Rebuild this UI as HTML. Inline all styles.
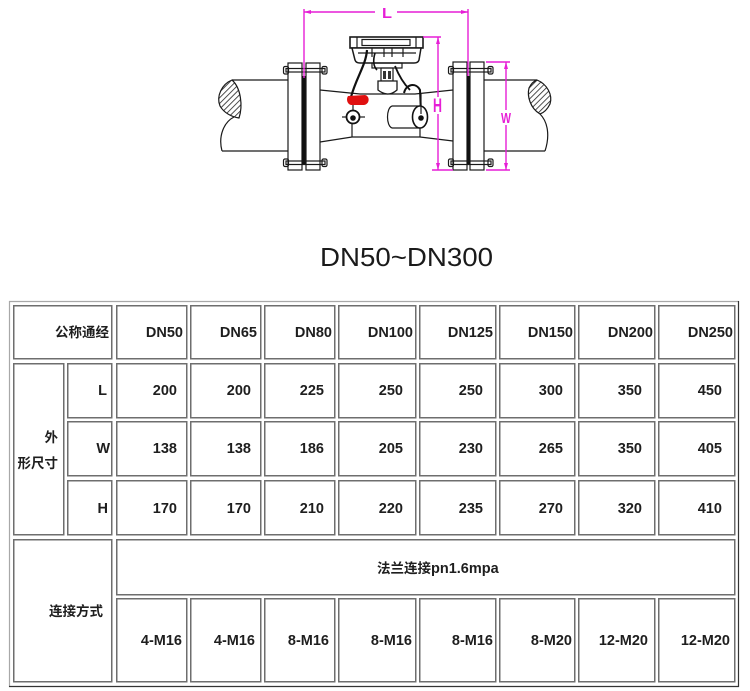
<!DOCTYPE html>
<html><head><meta charset="utf-8"><style>
html,body{margin:0;padding:0;background:#fff;}
svg{display:block;}
.t{font-family:"Liberation Sans","Noto Sans CJK SC",sans-serif;font-weight:bold;font-size:14.5px;fill:#1e1e1e;}
.c{font-family:"Liberation Sans","Noto Sans CJK SC",sans-serif;font-weight:bold;font-size:13.5px;fill:#1e1e1e;}
.cell{fill:none;stroke:#6e6e6e;stroke-width:1.5;}
.k{fill:none;stroke:#1a1a1a;stroke-width:1.2;}
.m{stroke:#e61ed6;stroke-width:1.4;fill:none;}
.mf{fill:#e61ed6;}
</style></head><body>
<svg width="750" height="691" viewBox="0 0 750 691" xmlns="http://www.w3.org/2000/svg">
<defs>
<pattern id="h" patternUnits="userSpaceOnUse" width="4" height="4" patternTransform="rotate(45)">
<rect width="4" height="4" fill="#fff"/><line x1="0" y1="0" x2="0" y2="4" stroke="#222" stroke-width="1.6"/>
</pattern>
</defs>

<!-- ===== DRAWING ===== -->
<!-- left pipe -->
<line class="k" x1="232" y1="80" x2="288" y2="80"/>
<line class="k" x1="222" y1="151" x2="288" y2="151"/>
<path d="M232,80 C222,84 216,96 220,106 C224,113 232,117 239,118 C243,106 241,88 232,80 Z" fill="url(#h)" stroke="#1a1a1a" stroke-width="1.2"/>
<path class="k" d="M234,117 C224,122 218,136 222,151"/>
<!-- right pipe -->
<line class="k" x1="484" y1="80" x2="537" y2="80"/>
<line class="k" x1="484" y1="151" x2="545" y2="151"/>
<path d="M537,80 C547,84 553,95 550,104 C547,110 543,113 540,114 C530,108 527,96 529,88 C531,84 534,81 537,80 Z" fill="url(#h)" stroke="#1a1a1a" stroke-width="1.2"/>
<path class="k" d="M540,114 C548,122 550,136 545,151"/>

<!-- body -->
<polyline class="k" points="320,90 360,94 415,94 453,90"/>
<polyline class="k" points="320,142 352,137 420,137 453,141"/>
<line class="k" x1="352" y1="123" x2="352" y2="137"/>
<line class="k" x1="420" y1="128" x2="420" y2="137"/>

<!-- left flange -->
<rect class="k" x="288" y="63" width="14" height="107" fill="#fff"/>
<rect class="k" x="306" y="63" width="14" height="107" fill="#fff"/>
<rect x="302" y="76" width="3.5" height="88" fill="#111"/>
<rect class="k" x="286" y="68.5" width="39" height="3.5" fill="#fff"/>
<rect class="k" x="283.5" y="66.5" width="5" height="7.5" rx="1.5" fill="#fff"/>
<rect class="k" x="322" y="66.5" width="5" height="7.5" rx="1.5" fill="#fff"/>
<rect class="k" x="286" y="161" width="39" height="3.5" fill="#fff"/>
<rect class="k" x="283.5" y="159" width="5" height="7.5" rx="1.5" fill="#fff"/>
<rect class="k" x="322" y="159" width="5" height="7.5" rx="1.5" fill="#fff"/>

<!-- right flange -->
<rect class="k" x="453" y="62" width="14" height="108" fill="#fff"/>
<rect class="k" x="470" y="62" width="14" height="108" fill="#fff"/>
<rect x="467" y="76" width="3" height="88" fill="#111"/>
<rect class="k" x="451" y="68.5" width="40" height="3.5" fill="#fff"/>
<rect class="k" x="448.5" y="66.5" width="5" height="7.5" rx="1.5" fill="#fff"/>
<rect class="k" x="488" y="66.5" width="5" height="7.5" rx="1.5" fill="#fff"/>
<rect class="k" x="451" y="161" width="40" height="3.5" fill="#fff"/>
<rect class="k" x="448.5" y="159" width="5" height="7.5" rx="1.5" fill="#fff"/>
<rect class="k" x="488" y="159" width="5" height="7.5" rx="1.5" fill="#fff"/>

<!-- meter head -->
<rect x="350" y="37" width="73" height="11" fill="#fff" stroke="#1a1a1a" stroke-width="1.6"/>
<rect class="k" x="362" y="39.5" width="48" height="6"/>
<line class="k" x1="357" y1="37" x2="357" y2="48"/>
<line class="k" x1="416" y1="37" x2="416" y2="48"/>
<path d="M352,48 L421,48 L419,60 Q418,63 414,63 L360,63 Q356,63 355,60 Z" fill="#fff" stroke="#1a1a1a" stroke-width="1.5"/>
<line class="k" x1="358" y1="53" x2="416" y2="53"/>
<line class="k" x1="372" y1="48" x2="372" y2="57"/>
<line class="k" x1="384" y1="48" x2="384" y2="57"/>
<line class="k" x1="392" y1="48" x2="392" y2="57"/>
<line class="k" x1="403" y1="48" x2="403" y2="57"/>
<!-- stem -->
<rect class="k" x="372" y="63" width="30" height="5" fill="#fff"/>
<rect class="k" x="381" y="68" width="12" height="13" fill="#fff"/>
<rect x="383" y="71" width="3" height="8" fill="#333"/>
<rect x="388" y="71" width="3" height="8" fill="#333"/>
<path d="M378,81 L397,81 L397,90 Q388,98 378,90 Z" fill="#fff" stroke="#1a1a1a" stroke-width="1.3"/>
<!-- cables -->
<path d="M367,50 C366,65 356,78 351,97" fill="none" stroke="#111" stroke-width="2.2"/>
<path d="M375,53 C373,60 373,66 377,70" fill="none" stroke="#111" stroke-width="1.6"/>
<path d="M395,66 C399,76 404,84 410,90" fill="none" stroke="#111" stroke-width="1.8"/>
<path d="M404,93 C406,84 416,82 420,90 L421,114" fill="none" stroke="#111" stroke-width="2"/>
<!-- red -->
<path d="M348,96 L365,95 C370,96 370,104 364,105 L351,105 C347,104 346,99 348,96 Z" fill="#e01010"/>
<!-- left sensor -->
<line class="k" x1="353" y1="105" x2="353" y2="110"/>
<circle cx="353" cy="117" r="6.5" fill="#fff" stroke="#111" stroke-width="1.8"/>
<circle cx="353" cy="118" r="2.8" fill="#111"/>
<line class="k" x1="342" y1="117" x2="346" y2="117"/>
<line class="k" x1="360" y1="117" x2="365" y2="117"/>
<!-- right cylinder -->
<path d="M392,106 L420,106 M392,128 L420,128" class="k"/>
<path d="M392,106 C386,108 386,126 392,128" class="k"/>
<ellipse cx="420" cy="117" rx="7.5" ry="11" fill="#fff" stroke="#111" stroke-width="1.6"/>
<circle cx="421" cy="118" r="2.8" fill="#111"/>
<line class="k" x1="421" y1="94" x2="421" y2="114"/>

<!-- dimensions -->
<line class="m" x1="304" y1="9" x2="304" y2="78"/>
<line class="m" x1="468" y1="9" x2="468" y2="76"/>
<line class="m" x1="304" y1="12" x2="375" y2="12"/>
<line class="m" x1="397" y1="12" x2="468" y2="12"/>
<polygon class="mf" points="304,12 311,10 311,14"/>
<polygon class="mf" points="468,12 461,10 461,14"/>
<text x="382" y="18" font-family="Liberation Sans" font-weight="bold" font-size="15" fill="#e61ed6" textLength="10" lengthAdjust="spacingAndGlyphs">L</text>

<line class="m" x1="423" y1="37" x2="441" y2="37"/>
<line class="m" x1="432" y1="170" x2="453" y2="170"/>
<line class="m" x1="438" y1="37" x2="438" y2="97"/>
<line class="m" x1="438" y1="114" x2="438" y2="170"/>
<polygon class="mf" points="438,37 436,44 440,44"/>
<polygon class="mf" points="438,170 436,163 440,163"/>
<text x="433" y="112" font-family="Liberation Sans" font-weight="bold" font-size="19" fill="#e61ed6" textLength="9" lengthAdjust="spacingAndGlyphs">H</text>

<line class="m" x1="486" y1="62" x2="510" y2="62"/>
<line class="m" x1="486" y1="170" x2="510" y2="170"/>
<line class="m" x1="506" y1="62" x2="506" y2="110"/>
<line class="m" x1="506" y1="125" x2="506" y2="170"/>
<polygon class="mf" points="506,62 504,69 508,69"/>
<polygon class="mf" points="506,170 504,163 508,163"/>
<text x="501" y="123" font-family="Liberation Sans" font-weight="bold" font-size="15" fill="#e61ed6" textLength="10" lengthAdjust="spacingAndGlyphs">W</text>

<!-- ===== TITLE ===== -->
<text x="320" y="266" font-family="Liberation Sans" font-size="25.5" fill="#1a1a1a" textLength="173" lengthAdjust="spacingAndGlyphs">DN50~DN300</text>

<!-- ===== TABLE ===== -->
<line x1="9" y1="301.5" x2="739" y2="301.5" stroke="#a8a8a8" stroke-width="1.2"/>
<line x1="9.5" y1="301" x2="9.5" y2="687" stroke="#a8a8a8" stroke-width="1.2"/>
<line x1="738.5" y1="301" x2="738.5" y2="687" stroke="#333" stroke-width="1.2"/>
<line x1="9" y1="686.5" x2="739" y2="686.5" stroke="#333" stroke-width="1.2"/>

<!-- header & left cells -->
<rect class="cell" x="13.75" y="305.75" width="98" height="53"/>
<rect class="cell" x="13.75" y="363.75" width="50" height="171"/>
<rect class="cell" x="67.75" y="363.75" width="44" height="54"/>
<rect class="cell" x="67.75" y="421.75" width="44" height="54"/>
<rect class="cell" x="67.75" y="480.75" width="44" height="54"/>
<rect class="cell" x="13.75" y="539.75" width="98" height="142"/>
<rect class="cell" x="116.75" y="539.75" width="618" height="55"/>

<!-- data grid cells -->
<g>
<rect class="cell" x="116.75" y="305.75" width="70" height="53"/><rect class="cell" x="190.75" y="305.75" width="70" height="53"/><rect class="cell" x="264.75" y="305.75" width="70" height="53"/><rect class="cell" x="338.75" y="305.75" width="77" height="53"/><rect class="cell" x="419.75" y="305.75" width="76" height="53"/><rect class="cell" x="499.75" y="305.75" width="75" height="53"/><rect class="cell" x="578.75" y="305.75" width="76" height="53"/><rect class="cell" x="658.75" y="305.75" width="76" height="53"/>
<rect class="cell" x="116.75" y="363.75" width="70" height="54"/><rect class="cell" x="190.75" y="363.75" width="70" height="54"/><rect class="cell" x="264.75" y="363.75" width="70" height="54"/><rect class="cell" x="338.75" y="363.75" width="77" height="54"/><rect class="cell" x="419.75" y="363.75" width="76" height="54"/><rect class="cell" x="499.75" y="363.75" width="75" height="54"/><rect class="cell" x="578.75" y="363.75" width="76" height="54"/><rect class="cell" x="658.75" y="363.75" width="76" height="54"/>
<rect class="cell" x="116.75" y="421.75" width="70" height="54"/><rect class="cell" x="190.75" y="421.75" width="70" height="54"/><rect class="cell" x="264.75" y="421.75" width="70" height="54"/><rect class="cell" x="338.75" y="421.75" width="77" height="54"/><rect class="cell" x="419.75" y="421.75" width="76" height="54"/><rect class="cell" x="499.75" y="421.75" width="75" height="54"/><rect class="cell" x="578.75" y="421.75" width="76" height="54"/><rect class="cell" x="658.75" y="421.75" width="76" height="54"/>
<rect class="cell" x="116.75" y="480.75" width="70" height="54"/><rect class="cell" x="190.75" y="480.75" width="70" height="54"/><rect class="cell" x="264.75" y="480.75" width="70" height="54"/><rect class="cell" x="338.75" y="480.75" width="77" height="54"/><rect class="cell" x="419.75" y="480.75" width="76" height="54"/><rect class="cell" x="499.75" y="480.75" width="75" height="54"/><rect class="cell" x="578.75" y="480.75" width="76" height="54"/><rect class="cell" x="658.75" y="480.75" width="76" height="54"/>
<rect class="cell" x="116.75" y="598.75" width="70" height="83"/><rect class="cell" x="190.75" y="598.75" width="70" height="83"/><rect class="cell" x="264.75" y="598.75" width="70" height="83"/><rect class="cell" x="338.75" y="598.75" width="77" height="83"/><rect class="cell" x="419.75" y="598.75" width="76" height="83"/><rect class="cell" x="499.75" y="598.75" width="75" height="83"/><rect class="cell" x="578.75" y="598.75" width="76" height="83"/><rect class="cell" x="658.75" y="598.75" width="76" height="83"/>
</g>

<!-- table text -->
<g text-anchor="end">
<text class="c" x="109" y="337">公称通经</text>
<text class="t" x="183" y="337">DN50</text>
<text class="t" x="257" y="337">DN65</text>
<text class="t" x="332" y="337">DN80</text>
<text class="t" x="413" y="337">DN100</text>
<text class="t" x="493" y="337">DN125</text>
<text class="t" x="573" y="337">DN150</text>
<text class="t" x="653" y="337">DN200</text>
<text class="t" x="733" y="337">DN250</text>

<text class="t" x="107" y="395">L</text>
<text class="t" x="177" y="395">200</text>
<text class="t" x="251" y="395">200</text>
<text class="t" x="324" y="395">225</text>
<text class="t" x="403" y="395">250</text>
<text class="t" x="483" y="395">250</text>
<text class="t" x="563" y="395">300</text>
<text class="t" x="642" y="395">350</text>
<text class="t" x="722" y="395">450</text>

<text class="t" x="110" y="453">W</text>
<text class="t" x="177" y="453">138</text>
<text class="t" x="251" y="453">138</text>
<text class="t" x="324" y="453">186</text>
<text class="t" x="403" y="453">205</text>
<text class="t" x="483" y="453">230</text>
<text class="t" x="563" y="453">265</text>
<text class="t" x="642" y="453">350</text>
<text class="t" x="722" y="453">405</text>

<text class="t" x="108" y="513">H</text>
<text class="t" x="177" y="513">170</text>
<text class="t" x="251" y="513">170</text>
<text class="t" x="324" y="513">210</text>
<text class="t" x="403" y="513">220</text>
<text class="t" x="483" y="513">235</text>
<text class="t" x="563" y="513">270</text>
<text class="t" x="642" y="513">320</text>
<text class="t" x="722" y="513">410</text>

<text class="c" x="58" y="442">外</text>
<text class="c" x="58" y="468">形尺寸</text>
<text class="c" x="103" y="616">连接方式</text>

<text class="t" x="182" y="645">4-M16</text>
<text class="t" x="255" y="645">4-M16</text>
<text class="t" x="329" y="645">8-M16</text>
<text class="t" x="412" y="645">8-M16</text>
<text class="t" x="493" y="645">8-M16</text>
<text class="t" x="572" y="645">8-M20</text>
<text class="t" x="648" y="645">12-M20</text>
<text class="t" x="730" y="645">12-M20</text>
</g>
<text class="t" x="377" y="573"><tspan class="c">法兰连接</tspan>pn1.6mpa</text>
</svg>
</body></html>
